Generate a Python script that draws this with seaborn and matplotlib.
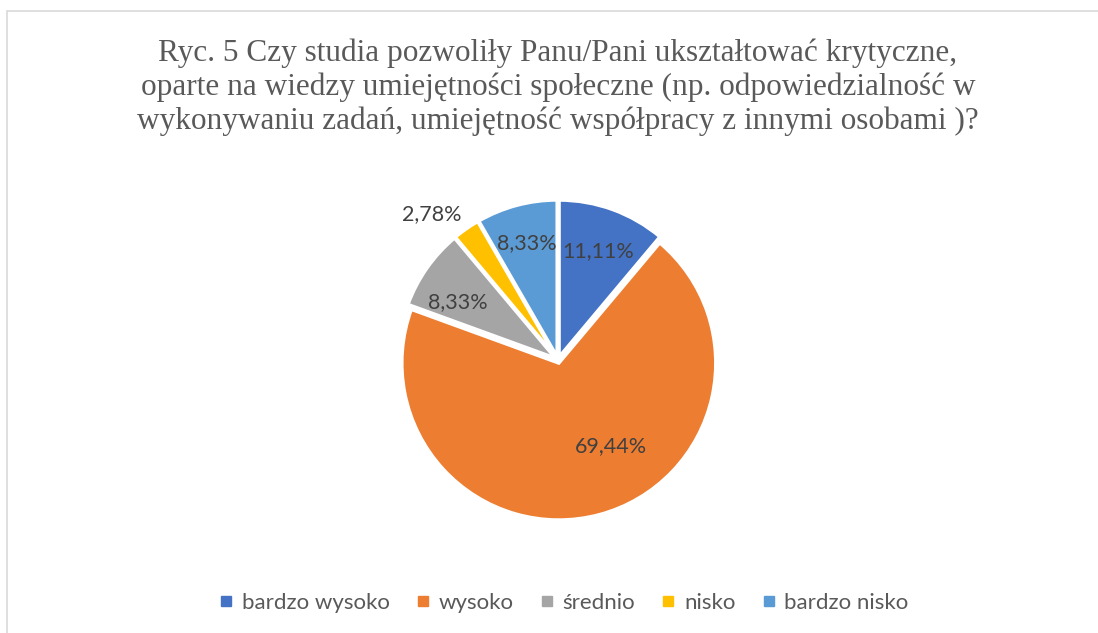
import numpy as np
import matplotlib
matplotlib.use('Agg')
import matplotlib.pyplot as plt
import seaborn as sns
from matplotlib.lines import Line2D
from matplotlib.patches import Rectangle

sns.set_theme(style='white')
plt.rcParams['font.family'] = ['Lato', 'DejaVu Sans']

# data
categories = ['bardzo wysoko', 'wysoko', 'średnio', 'nisko', 'bardzo nisko']
values = [11.11, 69.44, 8.33, 2.78, 8.33]
pct_labels = ['11,11%', '69,44%', '8,33%', '2,78%', '8,33%']
colors = ['#4472C4', '#ED7D31', '#A5A5A5', '#FFC000', '#5B9BD5']
# label placement: distance from centre (radius units), angle nudge (deg)
label_dist = [0.74, 0.64, 0.74, 1.23, 0.77]
label_nudge = [0, 16.5, 5, 6, 0]

title = ('Ryc. 5 Czy studia pozwoliły Panu/Pani ukształtować krytyczne,\n'
         'oparte na wiedzy umiejętności społeczne (np. odpowiedzialność w\n'
         'wykonywaniu zadań, umiejętność współpracy z innymi osobami )?')

W, H = 1098, 633
fig = plt.figure(figsize=(W / 100, H / 100), dpi=100)
fig.patch.set_facecolor('white')

# chart frame
fig.patches.append(Rectangle((7 / W, -0.1), 1.2, (H - 11) / H + 0.1,
                             transform=fig.transFigure, fill=False,
                             edgecolor='#d9d9d9', linewidth=1.2))

fig.text(558 / W, 1 - 87 / H, title, ha='center', va='center',
         fontsize=22.5, color='#595959', family=['Liberation Serif'],
         linespacing=1.2)

R = 157
lim = 1.3
side = 2 * R * lim
cx, cy = 558, H - 360
ax = fig.add_axes([(cx - side / 2) / W, (cy - side / 2) / H, side / W, side / H])
wedges, _ = ax.pie(values, colors=colors, startangle=90, counterclock=False,
                   explode=[0.02] * len(values),
                   wedgeprops=dict(edgecolor='white', linewidth=2.5))
ax.set_xlim(-lim, lim)
ax.set_ylim(-lim, lim)
ax.set_aspect('equal')
ax.axis('off')

for w, lab, d, nd in zip(wedges, pct_labels, label_dist, label_nudge):
    ang = np.deg2rad((w.theta1 + w.theta2) / 2 + nd)
    ax.text(d * np.cos(ang), d * np.sin(ang), lab, ha='center', va='center',
            fontsize=15.5, color='#404040')

handles = [Line2D([0], [0], marker='s', linestyle='none', markersize=7,
                  markerfacecolor=c, markeredgecolor=c) for c in colors]
fig.legend(handles, categories, loc='center', bbox_to_anchor=(563 / W, 1 - 603 / H),
           ncol=5, frameon=False, fontsize=16, handlelength=0.8,
           handletextpad=0.3, columnspacing=1.1, labelcolor='#595959')

fig.savefig('out.png', dpi=100, facecolor='white')
